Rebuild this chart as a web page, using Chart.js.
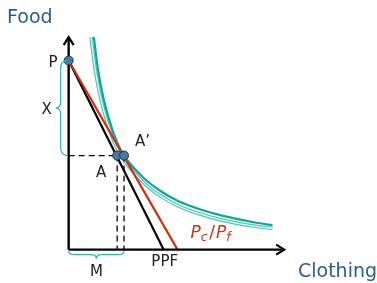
<!DOCTYPE html>
<html lang="en">
<head>
  <meta charset="UTF-8">
  <title>PPF and trade</title>
  <style>
    body { margin: 0; background: #fff; }
    canvas { display: block; }
  </style>
</head>
<body>
  <canvas id="chart" width="377" height="283"></canvas>
  <script src="https://cdn.jsdelivr.net/npm/chart.js"></script>
  <script>
    // axes extent (clothing on x, food on y)
    const axisMax = 10;

    // production possibility frontier and world price line, both start at P
    const foodAtP = 8.9;
    const ppfClothMax = 4.41;
    const priceClothMax = 5.05;

    // production point A and consumption point A'
    const pointA = [2.25, 4.43];
    const pointA2 = [2.57, 4.43];

    // indifference curves
    const icHighX = [1.17, 1.35, 1.6, 1.9, 2.25, 2.57, 3.51, 4.28, 5.05, 6.08, 7.12, 8.65, 9.46];
    const icHighY = [10.0, 8.55, 7.2, 6.05, 5.05, 4.43, 3.35, 2.75, 2.3, 1.9, 1.6, 1.28, 1.15];
    const icLowX = [1.04, 1.22, 1.47, 1.77, 2.12, 2.43, 3.51, 4.28, 5.05, 6.08, 7.12, 8.65, 9.46];
    const icLowY = [10.0, 8.55, 7.2, 6.05, 5.05, 4.43, 3.12, 2.52, 2.07, 1.68, 1.39, 1.1, 1.0];

    const pts = (xs, ys) => xs.map((x, i) => ({ x: x, y: ys[i] }));

    const teal = '#12a594';
    const tealLight = '#4fc6b9';
    const red = '#d0300f';
    const blue = '#2c5c8f';
    const font = '"DejaVu Sans", sans-serif';

    // lower order is drawn on top
    const line = (data, color, width, order, extra) => Object.assign({
      data: data,
      borderColor: color,
      borderWidth: width,
      pointRadius: 0,
      showLine: true,
      fill: false,
      order: order
    }, extra || {});

    const extras = {
      id: 'extras',
      afterDatasetsDraw(chart) {
        const c = chart.ctx;
        const sx = chart.scales.x, sy = chart.scales.y;
        const px = v => sx.getPixelForValue(v);
        const py = v => sy.getPixelForValue(v);
        const x0 = px(0), y0 = py(0);

        // arrow heads
        c.save();
        c.strokeStyle = '#000';
        c.lineWidth = 2.2;
        c.lineJoin = 'miter';
        const xt = px(axisMax), yt = py(axisMax);
        c.beginPath();
        c.moveTo(xt - 8, y0 - 5); c.lineTo(xt, y0); c.lineTo(xt - 8, y0 + 5);
        c.moveTo(x0 - 5, yt + 8); c.lineTo(x0, yt); c.lineTo(x0 + 5, yt + 8);
        c.stroke();

        // braces
        c.strokeStyle = '#2cb8a8';
        c.lineWidth = 1.2;
        const yP = py(foodAtP), yA = py(pointA[1]);
        const ym = (yP + yA) / 2;
        c.beginPath();
        c.moveTo(x0 - 2, yP);
        c.quadraticCurveTo(x0 - 8, yP, x0 - 8, yP + 8);
        c.lineTo(x0 - 8, ym - 6);
        c.quadraticCurveTo(x0 - 8, ym, x0 - 13, ym);
        c.quadraticCurveTo(x0 - 8, ym, x0 - 8, ym + 6);
        c.lineTo(x0 - 8, yA - 8);
        c.quadraticCurveTo(x0 - 8, yA, x0 - 1, yA);
        c.stroke();

        const xA2 = px(pointA2[0]);
        const xm = (x0 + xA2) / 2;
        c.beginPath();
        c.moveTo(x0, y0 + 1);
        c.quadraticCurveTo(x0, y0 + 5, x0 + 6, y0 + 5);
        c.lineTo(xm - 5, y0 + 5);
        c.quadraticCurveTo(xm, y0 + 5, xm, y0 + 9);
        c.quadraticCurveTo(xm, y0 + 5, xm + 5, y0 + 5);
        c.lineTo(xA2 - 6, y0 + 5);
        c.quadraticCurveTo(xA2, y0 + 5, xA2, y0 + 1);
        c.stroke();

        // labels
        c.fillStyle = '#222';
        c.font = '15px ' + font;
        c.textBaseline = 'alphabetic';
        c.textAlign = 'right';
        c.fillText('P', x0 - 11, yP + 6);
        c.fillText('X', x0 - 17, ym + 6);
        c.fillText('A', px(pointA[0]) - 11, yA + 21);
        c.textAlign = 'left';
        c.fillText('A\u2019', xA2 + 11, yA - 10);
        c.textAlign = 'center';
        c.fillText('M', xm, y0 + 26);
        c.fillText('PPF', px(ppfClothMax) + 1, y0 + 16);

        // Pc / Pf
        c.fillStyle = red;
        c.textAlign = 'left';
        let tx = px(priceClothMax) + 13, ty = y0 - 12;
        c.font = 'italic 17px ' + font;
        c.fillText('P', tx, ty); tx += c.measureText('P').width;
        c.font = 'italic 12px ' + font;
        c.fillText('c', tx, ty + 3); tx += c.measureText('c').width + 2;
        c.font = '17px ' + font;
        c.fillText('/', tx, ty); tx += c.measureText('/').width + 1;
        c.font = 'italic 17px ' + font;
        c.fillText('P', tx, ty); tx += c.measureText('P').width;
        c.font = 'italic 12px ' + font;
        c.fillText('f', tx, ty + 3);

        // axis titles
        c.fillStyle = blue;
        c.font = '19px ' + font;
        c.textAlign = 'left';
        c.fillText('Food', 7, 23);
        c.fillText('Clothing', 298, 277);
        c.restore();
      }
    };

    const ctx = document.getElementById('chart').getContext('2d');
    new Chart(ctx, {
      type: 'scatter',
      data: {
        datasets: [
          line(pts(icLowX, icLowY), tealLight, 3.6, 12, { cubicInterpolationMode: 'monotone' }),
          line(pts(icLowX, icLowY), '#e4f6f3', 1.3, 11, { cubicInterpolationMode: 'monotone' }),
          line(pts(icHighX, icHighY), teal, 2.2, 10, { cubicInterpolationMode: 'monotone' }),
          line([{ x: 0, y: foodAtP }, { x: ppfClothMax, y: 0 }], '#000', 2.2, 8),
          line([{ x: 0, y: foodAtP }, { x: priceClothMax, y: 0 }], red, 2.2, 7),
          line([{ x: 0, y: pointA[1] }, { x: pointA[0], y: pointA[1] }], '#000', 1.3, 6, { borderDash: [6, 4] }),
          line([{ x: pointA[0], y: pointA[1] }, { x: pointA[0], y: 0 }], '#000', 1.3, 6, { borderDash: [6, 4] }),
          line([{ x: pointA2[0], y: pointA2[1] }, { x: pointA2[0], y: 0 }], '#000', 1.3, 6, { borderDash: [6, 4] }),
          line([{ x: 0, y: 0 }, { x: axisMax, y: 0 }], '#000', 2.4, 4),
          line([{ x: 0, y: 0 }, { x: 0, y: axisMax }], '#000', 2.4, 4),
          {
            data: [{ x: 0, y: foodAtP }, { x: pointA[0], y: pointA[1] }, { x: pointA2[0], y: pointA2[1] }],
            showLine: false,
            pointRadius: 4.5,
            pointBackgroundColor: '#4a78a3',
            pointBorderColor: '#1d3550',
            pointBorderWidth: 1,
            order: 0
          }
        ]
      },
      options: {
        responsive: false,
        animation: false,
        layout: { padding: 0 },
        plugins: { legend: { display: false }, tooltip: { enabled: false } },
        scales: {
          x: { type: 'linear', display: false, min: -2.93, max: 14.05 },
          y: { type: 'linear', display: false, min: -1.31, max: 11.49 }
        }
      },
      plugins: [extras]
    });
  </script>
</body>
</html>
